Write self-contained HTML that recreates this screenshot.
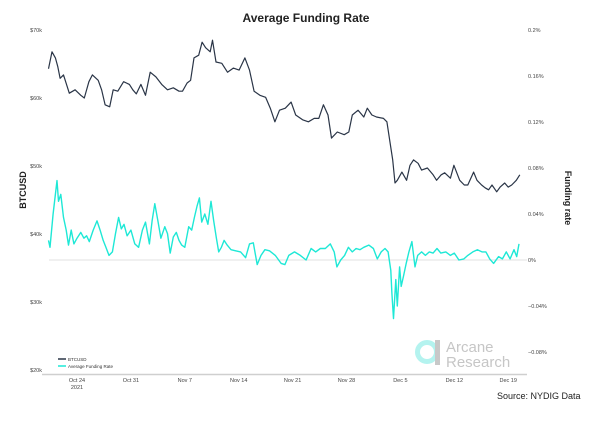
<!DOCTYPE html>
<html><head><meta charset="utf-8"><style>
body{margin:0;background:#fff;}
svg{display:block;font-family:"Liberation Sans",sans-serif;}
</style></head><body>
<svg id="chart" width="612" height="421" viewBox="0 0 612 421">
<text x="306" y="22" text-anchor="middle" font-size="12" font-weight="bold" fill="#222">Average Funding Rate</text>
<g id="grid"></g>
<g id="yLeft"></g>
<g id="yRight"></g>
<g id="xAxis"></g>
<text transform="translate(26,190) rotate(-90)" text-anchor="middle" font-size="9" font-weight="bold" fill="#222">BTCUSD</text>
<text transform="translate(565,198) rotate(90)" text-anchor="middle" font-size="9" font-weight="bold" fill="#222">Funding rate</text>
<g>
<circle cx="427" cy="352" r="9.5" fill="none" stroke="#b4f3ef" stroke-width="5"/>
<rect x="435" y="340" width="5" height="25" fill="#c8c8c8"/>
<text x="446" y="352" font-size="15" fill="#c6c6c6">Arcane</text>
<text x="446" y="367" font-size="15" fill="#c6c6c6">Research</text>
</g>
<g>
<line x1="58" y1="359" x2="66" y2="359" stroke="#2a3547" stroke-width="1.5"/>
<text x="68" y="361" font-size="4.5" fill="#333">BTCUSD</text>
<line x1="58" y1="366" x2="66" y2="366" stroke="#1ee8d6" stroke-width="1.5"/>
<text x="68" y="368" font-size="4.5" fill="#333">Average Funding Rate</text>
</g>
<text x="497" y="399" font-size="9" fill="#222">Source: NYDIG Data</text>
<g id="series"></g>
</svg>
<script>
const btcDays=[0.3,0.75,1.2,1.5,1.8,2.25,3,3.75,4.5,4.95,5.55,6,6.75,7.2,7.65,8.25,8.7,9.3,10.05,10.8,11.25,11.7,12.3,12.9,13.5,14.25,15,15.75,16.5,17.25,17.7,18.3,18.75,19.2,19.8,20.25,20.7,21.3,21.6,22.05,22.8,23.55,24.3,25.05,25.8,26.4,27,27.75,28.5,29.1,29.7,30.3,31.05,31.8,32.4,33.3,34.05,34.8,35.4,36,36.6,37.05,37.8,38.7,39.3,39.75,40.5,41.25,41.7,42.3,42.9,43.8,44.25,44.7,45,45.3,45.6,46.2,46.8,47.25,47.7,48.3,48.75,49.5,50.25,50.7,51.3,51.75,52.5,52.95,53.7,54.3,54.75,55.5,55.95,56.55,57,57.45,57.9,58.5,58.95,59.55,60,60.45,61.05,61.5];
const btcVals=[64.3,66.8,65.9,64.6,62.9,63.4,60.7,61.2,60.4,60,62.4,63.4,62.6,61.2,59,58.7,61.2,61,62.4,62,61.2,60.6,62,60.4,63.8,63.1,62,61.2,61.5,61,61,62.2,62.6,65.9,66.3,68.2,67.4,66.8,68.5,65.3,65.1,63.8,64.4,64.1,65.9,64.1,61,60.4,60.1,58.5,56.5,58.2,58.5,59.4,57.5,56.8,56.5,57,57,59,57.5,54.1,55,54.6,55,57.5,58.2,57.2,58.5,57.5,57.2,57,56.5,53.1,50.9,47.5,47.9,49.1,47.9,50.1,50.9,50.4,49.4,49.7,48.7,47.9,48.7,49,48.2,50.1,47.9,47.2,47.2,49.1,47.9,47.2,46.8,46.5,47.2,46.2,46.9,47.5,46.9,47.2,47.9,48.7];
const frZx=[126,130,138,148,152,158,165,172,178,185,192,200,210,218,225,232,242,252,260,268,275,283,292,300,308,315,322,330,340,350,360,370,378,388,395,402,410,418,428,435,442,450,458,465,472,480,490,498,505,512,518,524,532,540,548,555,562,568,575,582,590,600,612,625,638,648,658,668,678,688,700,715,730,740,750,765,780,795,808,820,832,845,858,868,875,885,895,905,915,925,935,945,958,970,980,990,1000,1008,1015,1018,1022,1028,1032,1038,1042,1048,1055,1062,1070,1078,1085,1095,1105,1115,1125,1135,1145,1158,1170,1180,1192,1205,1215,1228,1240,1252,1262,1272,1282,1295,1305,1315,1325,1335,1342,1348];
const frDays=frZx.map(z=>+(z*0.05-6).toFixed(2));
const frVals=[0.017,0.011,0.04,0.069,0.051,0.057,0.037,0.026,0.013,0.026,0.014,0.019,0.024,0.019,0.021,0.016,0.026,0.034,0.026,0.017,0.011,0.004,0.007,0.023,0.037,0.027,0.031,0.021,0.026,0.014,0.011,0.026,0.033,0.014,0.034,0.049,0.034,0.019,0.029,0.023,0.006,0.020,0.024,0.017,0.013,0.011,0.029,0.026,0.037,0.047,0.054,0.033,0.040,0.031,0.051,0.034,0.019,0.007,0.011,0.017,0.013,0.009,0.008,0.007,0.002,0.014,0.015,-0.004,0.004,0.009,0.008,0.004,-0.003,-0.004,0.004,0.007,0.004,0,0.010,0.007,0.010,0.010,0.014,0.007,-0.006,0,0.004,0.011,0.007,0.010,0.009,0.011,0.013,0.010,0.001,0.007,0.010,0.007,-0.009,-0.029,-0.051,-0.017,-0.040,-0.006,-0.023,-0.014,-0.003,0.007,0.016,-0.006,0.004,0.007,0.004,0.007,0.006,0.010,0.006,0.007,0.004,0.006,0,0.001,0.004,0.007,0.009,0.007,0.007,0.001,-0.003,0.003,0.001,0.007,0.001,0.009,0.003,0.014];
const leftTicks=[70,60,50,40,30,20];
const rightTicks=[0.2,0.16,0.12,0.08,0.04,0,-0.04,-0.08];
const xTickDays=[4,11,18,25,32,39,46,53,60];
const xTickLabels=["Oct 24","Oct 31","Nov 7","Nov 14","Nov 21","Nov 28","Dec 5","Dec 12","Dec 19"];

const xS=d=>77+(d-4)*7.7;
const yL=v=>30+(70-v)*6.8;
const yR=p=>260-p*1150;
const NS="http://www.w3.org/2000/svg";
function mk(tag,attrs,parent){const e=document.createElementNS(NS,tag);for(const k in attrs)e.setAttribute(k,attrs[k]);parent.appendChild(e);return e;}
const grid=document.getElementById('grid'),yl=document.getElementById('yLeft'),yr=document.getElementById('yRight'),xa=document.getElementById('xAxis'),ser=document.getElementById('series');

const zl=mk('line',{x1:49,x2:527,y1:yR(0),y2:yR(0),stroke:'#e6e6e6','stroke-width':1.2},grid);



leftTicks.forEach(v=>{const t=mk('text',{x:42,y:yL(v)+2,'text-anchor':'end','font-size':5.5,fill:'#444'},yl);t.textContent='$'+v+'k';

});
rightTicks.forEach(p=>{const t=mk('text',{x:528,y:yR(p)+2,'font-size':5.5,fill:'#444'},yr);t.textContent=(p<0?'\u2212'+Math.abs(p):p)+'%';

});

const ax=mk('line',{x1:42,x2:527,y1:374.5,y2:374.5,stroke:'#cfcfcf','stroke-width':1.5},xa);


xTickDays.forEach((d,i)=>{const t=mk('text',{x:xS(d),y:382,'text-anchor':'middle','font-size':5.5,fill:'#444'},xa);t.textContent=xTickLabels[i];

});
const yr21=mk('text',{x:xS(4),y:389,'text-anchor':'middle','font-size':5.5,fill:'#444'},xa);yr21.textContent='2021';



const fp=mk('path',{d:frDays.map((d,i)=>(i?'L':'M')+xS(d).toFixed(1)+','+yR(frVals[i]).toFixed(1)).join(''),fill:'none',stroke:'#1ee8d6','stroke-width':1.4,'stroke-linejoin':'round'},ser);


const bp=mk('path',{d:btcDays.map((d,i)=>(i?'L':'M')+xS(d).toFixed(1)+','+yL(btcVals[i]).toFixed(1)).join(''),fill:'none',stroke:'#2a3547','stroke-width':1.2,'stroke-linejoin':'round'},ser);


</script>
</body></html>
